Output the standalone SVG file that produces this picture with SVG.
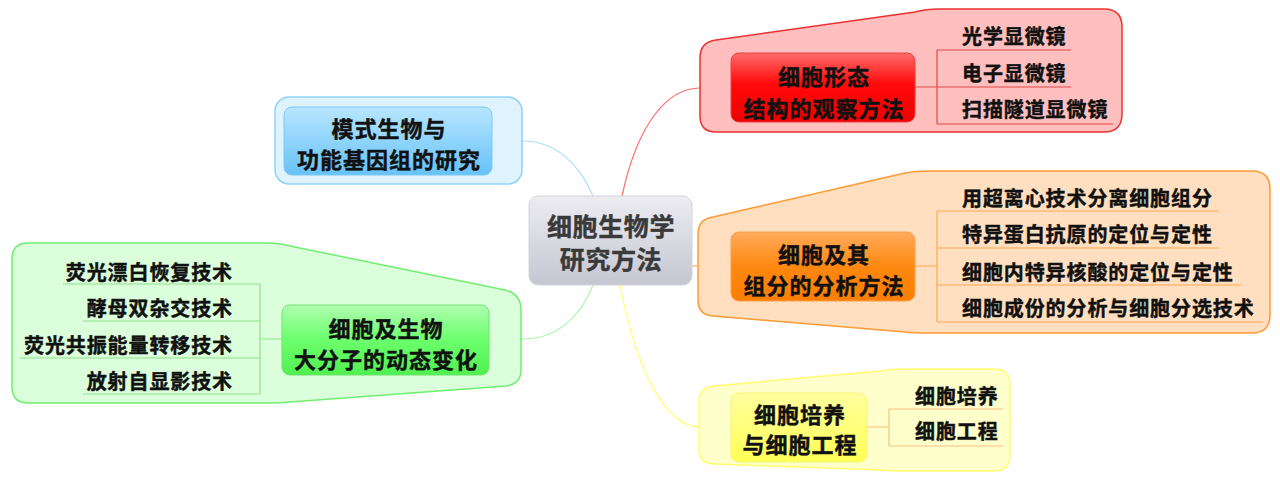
<svg xmlns="http://www.w3.org/2000/svg" width="1280" height="486" viewBox="0 0 1280 486">
<defs>
<linearGradient id="gC" x1="0" y1="0" x2="0" y2="1"><stop offset="0" stop-color="#ececf1"/><stop offset="1" stop-color="#c6c6d2"/></linearGradient>
<linearGradient id="gR" x1="0" y1="0" x2="0" y2="1"><stop offset="0" stop-color="#ff6a6a"/><stop offset="0.45" stop-color="#ff0a0a"/><stop offset="1" stop-color="#f00000"/></linearGradient>
<linearGradient id="gO" x1="0" y1="0" x2="0" y2="1"><stop offset="0" stop-color="#ffac5c"/><stop offset="0.5" stop-color="#ff8810"/><stop offset="1" stop-color="#fb7e00"/></linearGradient>
<linearGradient id="gY" x1="0" y1="0" x2="0" y2="1"><stop offset="0" stop-color="#ffffa0"/><stop offset="1" stop-color="#ffff55"/></linearGradient>
<linearGradient id="gG" x1="0" y1="0" x2="0" y2="1"><stop offset="0" stop-color="#b0ffb0"/><stop offset="0.5" stop-color="#6cff6c"/><stop offset="1" stop-color="#50f050"/></linearGradient>
<linearGradient id="gB" x1="0" y1="0" x2="0" y2="1"><stop offset="0" stop-color="#b8e6ff"/><stop offset="1" stop-color="#66c2f6"/></linearGradient>
</defs>
<style>
text{font-family:"Noto Sans CJK SC","Noto Sans CJK JP",sans-serif;font-weight:700;fill:#111;stroke:#111;stroke-width:0.45px;dominant-baseline:central}
.main{font-size:22px;letter-spacing:1px;text-anchor:middle}
.sub{font-size:20px;letter-spacing:0.9px}
.ctr{font-size:25px;letter-spacing:0.6px;text-anchor:middle;fill:#3a3a3a;stroke:#3a3a3a}
.ln{fill:none;stroke-width:1.2}
.node{stroke-width:1}
</style>

<g id="connectors">
<path class="ln" stroke="#ff6a6a" d="M 622 196 C 638 122 668 88 700 88 L 731 88"/>
<path class="ln" stroke="#a6defd" d="M 593 196 C 580 165 556 141 523 141 L 492 141"/>
<path class="ln" stroke="#ff9a3a" d="M 692 266 L 731 266"/>
<path class="ln" stroke="#a8f8a8" d="M 593 285 C 580 318 556 339 523 339 L 489 339"/>
<path class="ln" stroke="#ffff70" d="M 620 285 C 638 378 668 427 700 427 L 731 427"/>
</g>

<g id="boundary-red">
<path d="M 700 58 Q 700 42 716 40 L 915 12 Q 925 9 940 9 L 1104 9 Q 1122 9 1122 27 L 1122 114 Q 1122 132 1104 132 L 716 132 Q 700 132 700 116 Z" fill="#ffbfbf" stroke="#f03030" stroke-width="1.5"/>
</g>
<g id="boundary-orange">
<path d="M 698 234 Q 698 219 713 217 L 905 173 Q 915 171 930 171 L 1252 171 Q 1270 171 1270 189 L 1270 315 Q 1270 333 1252 333 L 930 333 Q 915 333 905 332 L 713 316 Q 698 315 698 300 Z" fill="#ffdfbf" stroke="#ff9a33" stroke-width="1.5"/>
</g>
<g id="boundary-yellow">
<path d="M 699 402 Q 699 388 713 386 L 880 371 Q 890 369 905 369 L 994 369 Q 1010 369 1010 385 L 1010 455 Q 1010 471 994 471 L 905 471 Q 890 471 880 470 L 713 464 Q 699 463 699 450 Z" fill="#ffffcc" stroke="#ffff70" stroke-width="1.5"/>
</g>
<g id="boundary-green">
<path d="M 28 243 L 265 243 Q 280 243 290 246 L 505 290 Q 521 294 521 310 L 521 370 Q 521 384 506 386 L 290 402 Q 280 403 265 403 L 28 403 Q 12 403 12 387 L 12 259 Q 12 243 28 243 Z" fill="#dbffdb" stroke="#70ee70" stroke-width="1.5"/>
</g>
<g id="boundary-blue">
<rect x="275" y="97" width="247" height="87" rx="14" fill="#dff3ff" stroke="#8fd3fa" stroke-width="1.5"/>
</g>

<g id="center">
<rect class="node" x="529" y="196" width="163" height="89" rx="9" fill="url(#gC)" stroke="#d4d4dc"/>
<text class="ctr" x="611" y="225">细胞生物学</text>
<text class="ctr" x="611" y="258">研究方法</text>
</g>

<g id="node-red">
<rect class="node" x="731" y="53" width="184" height="69" rx="8" fill="url(#gR)" stroke="#e84040"/>
<text class="main" x="824" y="75">细胞形态</text>
<text class="main" x="824" y="107">结构的观察方法</text>
</g>
<g id="sub-red">
<path class="ln" stroke="#e04848" d="M 915 87 L 937 87 M 937 50 L 937 124 M 937 50 L 1071 50 M 937 87 L 1071 87 M 937 124 L 1113 124"/>
<text class="sub" x="962" y="35">光学显微镜</text>
<text class="sub" x="962" y="72">电子显微镜</text>
<text class="sub" x="962" y="108">扫描隧道显微镜</text>
</g>

<g id="node-orange">
<rect class="node" x="731" y="232" width="184" height="69" rx="8" fill="url(#gO)" stroke="#f8a050"/>
<text class="main" x="824" y="253">细胞及其</text>
<text class="main" x="824" y="284">组分的分析方法</text>
</g>
<g id="sub-orange">
<path class="ln" stroke="#ffa850" d="M 915 266 L 937 266 M 937 211 L 937 322 M 937 211 L 1219 211 M 937 248 L 1219 248 M 937 285 L 1241 285 M 937 322 L 1263 322"/>
<text class="sub" x="962" y="197">用超离心技术分离细胞组分</text>
<text class="sub" x="962" y="233">特异蛋白抗原的定位与定性</text>
<text class="sub" x="962" y="271">细胞内特异核酸的定位与定性</text>
<text class="sub" x="962" y="307">细胞成份的分析与细胞分选技术</text>
</g>

<g id="node-yellow">
<rect class="node" x="731" y="393" width="136" height="69" rx="8" fill="url(#gY)" stroke="#f4f470"/>
<text class="main" x="800" y="413">细胞培养</text>
<text class="main" x="800" y="443">与细胞工程</text>
</g>
<g id="sub-yellow">
<path class="ln" stroke="#f8c080" d="M 867 427 L 889 427 M 889 409 L 889 446 M 889 409 L 1003 409 M 889 446 L 1003 446"/>
<text class="sub" x="915" y="395">细胞培养</text>
<text class="sub" x="915" y="430">细胞工程</text>
</g>

<g id="node-green">
<rect class="node" x="282" y="305" width="207" height="70" rx="8" fill="url(#gG)" stroke="#70e070"/>
<text class="main" x="386" y="327">细胞及生物</text>
<text class="main" x="386" y="358">大分子的动态变化</text>
</g>
<g id="sub-green">
<path class="ln" stroke="#8ee08e" d="M 282 339 L 260 339 M 260 284 L 260 394 M 63 284 L 260 284 M 83 321 L 260 321 M 20 358 L 260 358 M 83 394 L 260 394"/>
<text class="sub" x="233" y="271" text-anchor="end">荧光漂白恢复技术</text>
<text class="sub" x="233" y="307" text-anchor="end">酵母双杂交技术</text>
<text class="sub" x="233" y="344" text-anchor="end">荧光共振能量转移技术</text>
<text class="sub" x="233" y="380" text-anchor="end">放射自显影技术</text>
</g>

<g id="node-blue">
<rect class="node" x="284" y="107" width="208" height="68" rx="8" fill="url(#gB)" stroke="#7ccaf4"/>
<text class="main" x="389" y="127">模式生物与</text>
<text class="main" x="389" y="158">功能基因组的研究</text>
</g>
</svg>
